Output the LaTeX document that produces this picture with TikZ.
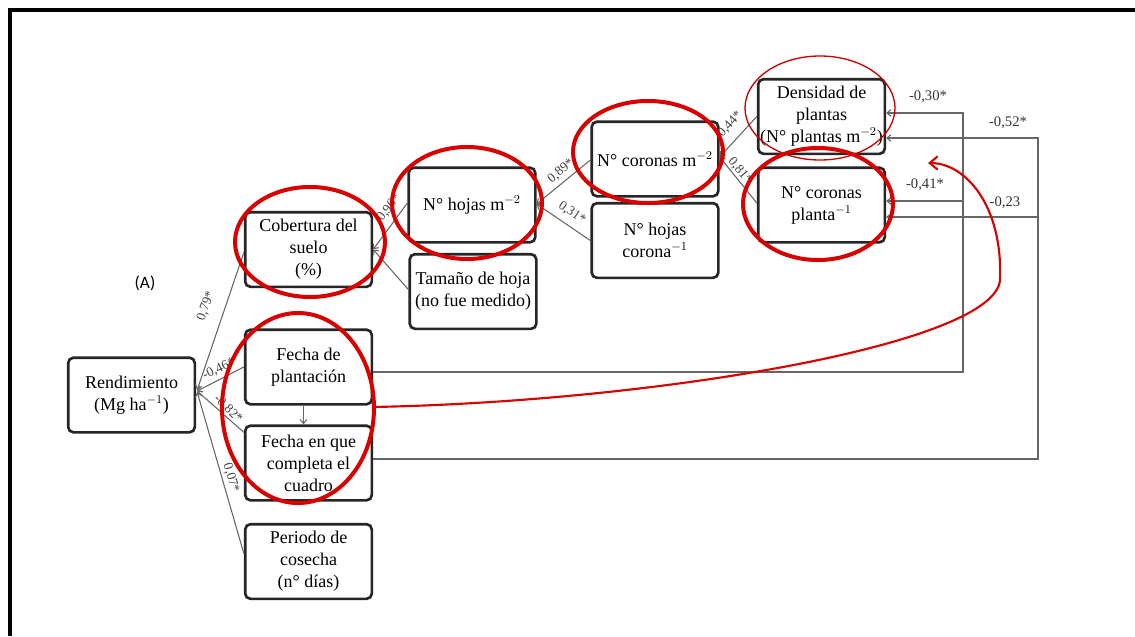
\documentclass[tikz,border=0pt]{standalone}
\usepackage{fontspec}
\setmainfont{Liberation Serif}
\newfontfamily\carl{Carlito}
\usetikzlibrary{calc,arrows.meta}
\begin{document}
\begin{tikzpicture}[x=0.75pt,y=-0.75pt,
  box/.style={draw=black!85,line width=2pt,rounded corners=4pt,minimum width=95pt,minimum height=56pt,inner sep=1pt,align=center,font=\fontsize{13.5}{16.5}\selectfont},
  con/.style={draw=black!60,line width=0.8pt},
  arr/.style={con,-{Straight Barb[length=3pt,width=5pt]}},
  lab/.style={font=\fontsize{10}{12}\selectfont,text=black!75,inner sep=0.5pt},
  rlab/.style={font=\fontsize{11}{13}\selectfont,text=black!80,inner sep=0.5pt},
  redring/.style={draw=red!85!black,line width=3pt},
  thinring/.style={draw=red!80!black,line width=1pt}
]
\useasboundingbox[fill=white] (0,0) rectangle (1135,636);
\draw[line width=3pt] (10,636) -- (10,10) -- (1135,10);

% boxes
\node[box] (rend) at (131.5,395) {Rendimiento\\(Mg ha$^{-1}$)};
\node[box] (cob) at (308.5,249.5) {Cobertura del\\suelo\\(\%)};
\node[box] (fpl) at (308.5,367) {Fecha de\\plantación};
\node[box] (fcc) at (308.5,463) {Fecha en que\\completa el\\cuadro};
\node[box] (per) at (308.5,561.5) {Periodo de\\cosecha\\(n° días)};
\node[box] (nhm) at (472,205) {N° hojas m$^{-2}$};
\node[box] (tam) at (473,291.5) {Tamaño de hoja\\(no fue medido)};
\node[box] (ncm) at (655,159) {N° coronas m$^{-2}$};
\node[box] (nhc) at (655,240.5) {N° hojas\\corona$^{-1}$};
\node[box] (den) at (821.5,116.5) {Densidad de\\plantas\\(N° plantas m$^{-2}$)};
\node[box] (ncp) at (821.5,205) {N° coronas\\planta$^{-1}$};

\node[font=\carl\fontsize{13}{15}\selectfont] (A) at (145,283) {(A)};

% connectors to Rendimiento
\draw[arr] ($(cob.west)+(0,3)$) -- ($(rend.east)+(1,-5)$);
\draw[arr] (fpl.west) -- ($(rend.east)+(1,-4)$);
\draw[arr] ($(fcc.north west)+(0,8)$) -- ($(rend.east)+(1,-4)$);
\draw[arr] ($(per.west)+(0,-8)$) -- ($(rend.east)+(1,-3)$);
\draw[arr] ($(fpl.south)+(-5,0)$) -- ($(fcc.north)+(-5,0)$);

% upper chain
\draw[arr] ($(nhm.west)+(0,-2)$) -- (cob.east);
\draw[arr] ($(tam.west)+(0,-2)$) -- (cob.east);
\draw[arr] ($(ncm.west)+(0,1)$) -- ($(nhm.east)+(0,-1)$);
\draw[arr] (nhc.west) -- ($(nhm.east)+(0,-1)$);
\draw[arr] (den.west) -- ($(ncm.east)+(0,-2)$);
\draw[arr] ($(ncp.west)+(0,-2)$) -- ($(ncm.east)+(0,-2)$);

% feedback lines
\coordinate (v1) at (963,113);
\coordinate (v2) at (1038,138);
\draw[arr] ($(fpl.east)+(0,5)$) -| (v1) -- ($(den.east)+(0,-3.5)$);
\draw[arr] ($(v1)+(0,88)$) -- ($(ncp.east)+(0,-4)$);
\draw[arr] ($(fcc.east)+(0,-4)$) -| (v2) -- ($(den.east)+(0,21.5)$);
\draw[arr] ($(v2)+(0,79)$) -- ($(ncp.east)+(0,12)$);

% labels
\node[lab,rotate=70] (l1) at (206,306) {0,79*};
\node[lab,rotate=25] (l2) at (219,369) {-0,46*};
\node[lab,rotate=-45] (l3) at (228,409) {-0,82*};
\node[lab,rotate=-73] (l4) at (231,478) {0,07*};
\node[lab,rotate=52] (l5) at (389,208) {0,96*};
\node[lab,rotate=41] (l6) at (561,171) {0,89*};
\node[lab,rotate=-35] (l7) at (572,213) {0,31*};
\node[lab,rotate=48] (l8) at (730,124) {0,44*};
\node[lab,rotate=-50] (l9) at (740,171) {0,81*};
\node[rlab] (l10) at (928,97) {-0,30*};
\node[rlab] (l11) at (1008,123) {-0,52*};
\node[rlab] (l12) at (925,185) {-0,41*};
\node[rlab] (l13) at (1005,203) {-0,23};

% red annotations
\draw[redring] (310,242) ellipse [x radius=56.25pt, y radius=41.25pt];
\draw[redring] (467,203) ellipse [x radius=56.25pt, y radius=42pt];
\draw[redring] (648,152) ellipse [x radius=56.25pt, y radius=38.25pt];
\draw[redring] (818,204) ellipse [x radius=56.25pt, y radius=42pt];
\draw[thinring] (820,108) ellipse [x radius=56.25pt, y radius=39pt];
\draw[redring] (298,408) ellipse [x radius=57pt, y radius=71.25pt];
\draw[draw=red!85!black,line width=1.6pt,-{Straight Barb[length=6pt,width=10pt]}]
  (372,407) .. controls (650,402) and (995,345) .. (1000,280)
  .. controls (1003,205) and (965,163) .. (928,163);
\end{tikzpicture}
\end{document}
